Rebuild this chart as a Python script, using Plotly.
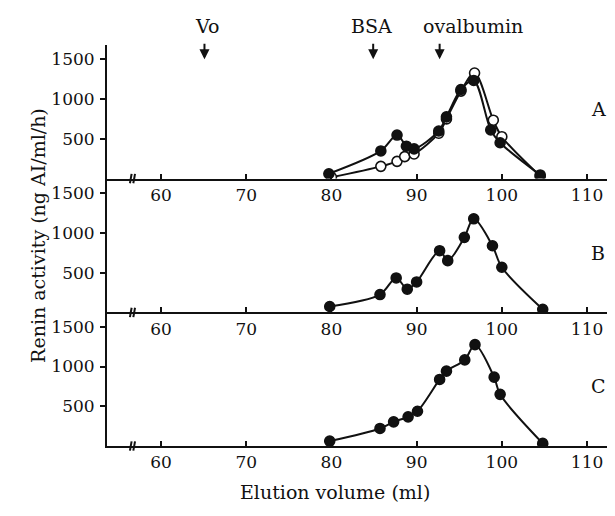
import plotly.graph_objects as go

# ---- data ----
a_fill_x = [79.7, 85.8, 87.7, 88.8, 89.7, 92.6, 93.5, 95.2, 96.7, 98.7, 99.8, 104.5]
a_fill_y = [60, 347, 547, 407, 373, 598, 776, 1120, 1234, 611, 450, 45]
a_open_x = [80.0, 85.8, 87.7, 88.6, 89.7, 92.6, 93.5, 95.2, 96.8, 99.0, 100.0, 104.5]
a_open_y = [15, 153, 216, 276, 309, 570, 750, 1100, 1327, 734, 526, 30]
b_x = [79.8, 85.7, 87.6, 88.9, 90.0, 92.7, 93.65, 95.6, 96.7, 98.9, 100.0, 104.8]
b_y = [75, 225, 433, 292, 383, 775, 650, 942, 1175, 837, 567, 40]
c_x = [79.8, 85.7, 87.3, 89.0, 90.1, 92.7, 93.5, 95.65, 96.85, 99.1, 99.8, 104.8]
c_y = [62, 221, 304, 367, 437, 837, 942, 1083, 1275, 866, 650, 33]

x_ticks = [60, 70, 80, 90, 100, 110]
y_ticks = [500, 1000, 1500]
panel_labels = ["A", "B", "C"]
markers_x = [65.1, 84.9, 92.7]
markers_text = ["Vo", "BSA", "ovalbumin"]
markers_text_x = [65.4, 84.7, 96.6]

FONT = "DejaVu Serif"
INK = "#111111"

fig = go.Figure()

def line_trace(x, y, xa, ya, filled=True):
    return go.Scatter(
        x=x, y=y, xaxis=xa, yaxis=ya, mode="lines+markers",
        line=dict(color=INK, width=2, shape="spline", smoothing=0.9),
        marker=dict(size=10, color=INK if filled else "white",
                    line=dict(color=INK, width=1.6)),
        showlegend=False, hoverinfo="skip")

fig.add_trace(line_trace(a_open_x, a_open_y, "x", "y", filled=False))
fig.add_trace(line_trace(a_fill_x, a_fill_y, "x", "y", filled=True))
fig.add_trace(line_trace(b_x, b_y, "x2", "y2"))
fig.add_trace(line_trace(c_x, c_y, "x3", "y3"))

xr = [53.66, 112.93]
yr = [0, 1680]
domains = [[0.667, 1.0], [0.333, 0.667], [0.0, 0.333]]

def xax(anchor):
    return dict(range=xr, anchor=anchor, domain=[0, 1], tickvals=x_ticks,
                ticks="inside", ticklen=5, tickwidth=1.5, tickcolor=INK,
                showline=True, linewidth=2, linecolor=INK, showgrid=False,
                zeroline=False, tickfont=dict(family=FONT, size=17, color=INK))

def yax(anchor, dom):
    return dict(range=yr, anchor=anchor, domain=dom, tickvals=y_ticks,
                ticks="outside", ticklen=5, tickwidth=1.5, tickcolor=INK,
                showline=True, linewidth=2, linecolor=INK, showgrid=False,
                zeroline=False, ticklabelstandoff=2,
                tickfont=dict(family=FONT, size=17, color=INK))

# page body has an 8px margin -> shrink figure and margins accordingly
fig.update_layout(
    width=607, height=508,
    margin=dict(l=99, r=3, t=37, b=70),
    paper_bgcolor="white", plot_bgcolor="white",
    xaxis=xax("y"), yaxis=yax("x", domains[0]),
    xaxis2=xax("y2"), yaxis2=yax("x2", domains[1]),
    xaxis3=xax("y3"), yaxis3=yax("x3", domains[2]),
    font=dict(family=FONT, color=INK),
)

anns = []
for lab, ya, yv in zip(panel_labels, ["y", "y2", "y3"], [875, 750, 750]):
    anns.append(dict(text=lab, x=111.3, y=yv, xref=ya.replace("y", "x"), yref=ya,
                     showarrow=False, font=dict(family=FONT, size=19, color=INK)))
for mx, tx, t in zip(markers_x, markers_text_x, markers_text):
    anns.append(dict(text="", x=mx, y=1500, xref="x", yref="y", showarrow=True,
                     ax=0, ay=-17, arrowhead=2, arrowsize=1, arrowwidth=2,
                     arrowcolor=INK))
    anns.append(dict(text=t, x=tx, y=1, xref="x", yref="paper", yshift=19,
                     yanchor="middle", showarrow=False,
                     font=dict(family=FONT, size=19, color=INK)))
anns.append(dict(text="Elution volume (ml)", x=0.451, y=0, xref="paper", yref="paper",
                 yshift=-46, yanchor="middle", showarrow=False,
                 font=dict(family=FONT, size=19, color=INK)))
anns.append(dict(text="Renin activity (ng AI/ml/h)", x=0, y=0.524, xref="paper",
                 yref="paper", xshift=-82, textangle=-90, showarrow=False,
                 font=dict(family=FONT, size=19, color=INK)))
fig.update_layout(annotations=anns)

shapes = []
for xa, ya in [("x", "y"), ("x2", "y2"), ("x3", "y3")]:
    for bx in [56.45, 56.85]:
        shapes.append(dict(type="line", xref=xa, yref=ya + " domain",
                           x0=bx - 0.1, x1=bx + 0.1, y0=-0.035, y1=0.035,
                           line=dict(color=INK, width=2)))
fig.update_layout(shapes=shapes)

fig.write_html("out.html")
